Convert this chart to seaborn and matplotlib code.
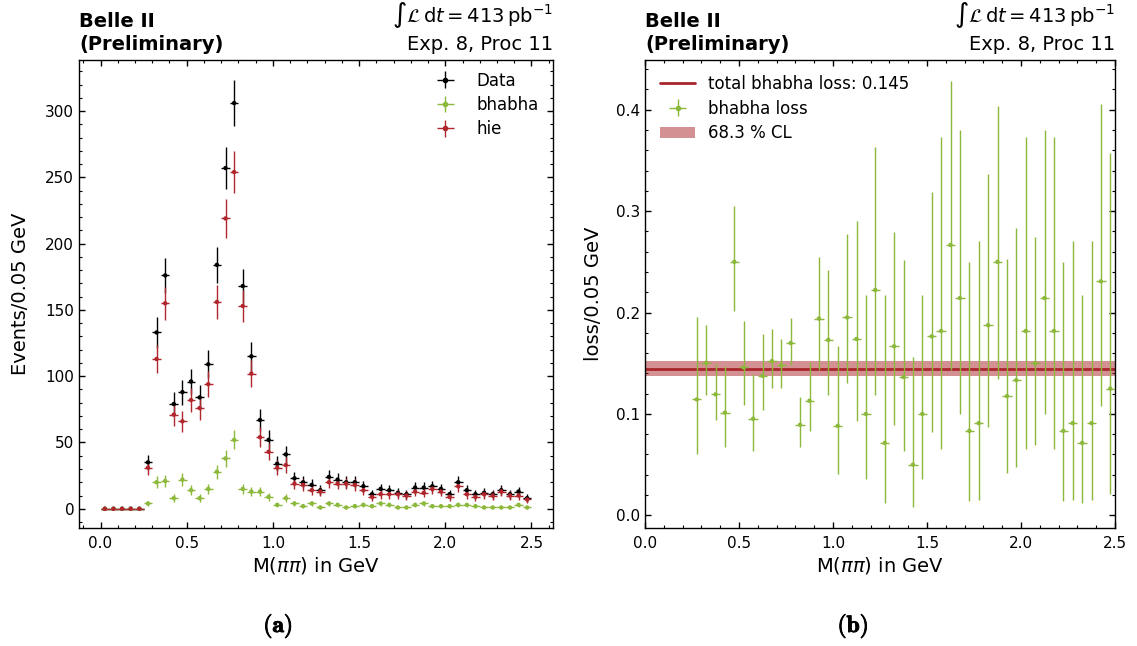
import math
import numpy as np
import pandas as pd
import matplotlib
matplotlib.use("Agg")
import matplotlib.pyplot as plt
import matplotlib.patches as mpatches
import matplotlib.patheffects as pe
from matplotlib.lines import Line2D
from matplotlib.ticker import MultipleLocator
import seaborn as sns

# ---- binned counts, M(pi pi) in 0.05 GeV bins ----
bin_width = 0.05
bin_centers = np.round(np.arange(0.025, 2.5, 0.05), 3)

data_counts = [0, 0, 0, 0, 0, 35, 133, 176, 79, 88,
               96, 84, 109, 184, 257, 306, 168, 115, 67, 52,
               34, 41, 23, 20, 18, 14, 24, 22, 20, 20,
               17, 11, 15, 14, 12, 11, 16, 16, 17, 15,
               11, 20, 14, 11, 12, 11, 14, 11, 13, 8]
bhabha_counts = [0, 0, 0, 0, 0, 4, 20, 21, 8, 22,
                 14, 8, 15, 28, 38, 52, 15, 13, 13, 9,
                 3, 8, 4, 2, 4, 1, 4, 3, 1, 2,
                 3, 2, 4, 3, 1, 1, 3, 4, 2, 2,
                 2, 3, 3, 2, 1, 1, 1, 1, 3, 1]
hie_counts = [0, 0, 0, 0, 0, 31, 113, 155, 71, 66,
              82, 76, 94, 156, 219, 254, 153, 102, 54, 43,
              31, 33, 19, 18, 14, 13, 20, 19, 19, 18,
              14, 9, 11, 11, 11, 10, 13, 12, 15, 13,
              9, 17, 11, 9, 11, 10, 13, 10, 10, 7]

series_labels = ["Data", "bhabha", "hie"]
series_colors = ["black", "#8CB83C", "#B0262C"]
line_color = "#A8252B"
confidence = 0.683


def beta_ppf(q, a, b, npts=400001):
    """Quantile of the Beta(a, b) distribution by numerical integration."""
    x = np.linspace(0.0, 1.0, npts)[1:-1]
    logpdf = (a - 1) * np.log(x) + (b - 1) * np.log1p(-x) \
        - (math.lgamma(a) + math.lgamma(b) - math.lgamma(a + b))
    pdf = np.exp(logpdf)
    cdf = np.concatenate([[0.0], np.cumsum(0.5 * (pdf[1:] + pdf[:-1]) * np.diff(x))])
    cdf /= cdf[-1]
    return float(np.interp(q, cdf, x))


def clopper_pearson(k, n, cl=confidence):
    alpha = (1.0 - cl) / 2.0
    lo = 0.0 if k == 0 else beta_ppf(alpha, k, n - k + 1)
    hi = 1.0 if k == n else beta_ppf(1.0 - alpha, k + 1, n - k)
    return lo, hi


df = pd.DataFrame({"M": bin_centers, "Data": data_counts,
                   "bhabha": bhabha_counts, "hie": hie_counts})

# per-bin bhabha loss with binomial intervals
loss = df[df["Data"] > 0].copy()
loss["frac"] = loss["bhabha"] / loss["Data"]
bounds = [clopper_pearson(k, n) for k, n in zip(loss["bhabha"], loss["Data"])]
loss["lo"] = [b[0] for b in bounds]
loss["hi"] = [b[1] for b in bounds]

k_tot, n_tot = int(np.sum(bhabha_counts)), int(np.sum(data_counts))
total_loss = k_tot / n_tot
total_lo, total_hi = clopper_pearson(k_tot, n_tot)

# ---- styling ----
sns.set_theme(style="ticks")
plt.rcParams["font.family"] = ["DejaVu Sans"]
plt.rcParams["mathtext.fontset"] = "dejavusans"
plt.rcParams["axes.linewidth"] = 1.0
plt.rcParams["axes.edgecolor"] = "black"
for key in ["text.color", "axes.labelcolor", "xtick.color", "ytick.color",
            "xtick.labelcolor", "ytick.labelcolor"]:
    plt.rcParams[key] = "black"

fig = plt.figure(figsize=(11.37, 6.46), dpi=100)
W, H = 1137.0, 646.0
ax1 = fig.add_axes([79 / W, 1 - 528 / H, 474 / W, 468 / H])
ax2 = fig.add_axes([645 / W, 1 - 528 / H, 470 / W, 468 / H])


def style_axes(ax, xminor, ymajor, yminor):
    ax.xaxis.set_major_locator(MultipleLocator(0.5))
    ax.xaxis.set_minor_locator(MultipleLocator(xminor))
    ax.yaxis.set_major_locator(MultipleLocator(ymajor))
    ax.yaxis.set_minor_locator(MultipleLocator(yminor))
    ax.tick_params(which="both", direction="in", top=True, right=True,
                   labelsize=11, color="black", labelcolor="black")
    ax.tick_params(which="major", length=4.5, width=1.0)
    ax.tick_params(which="minor", length=2.5, width=0.8)
    ax.tick_params(axis="x", which="major", pad=6)
    for sp in ax.spines.values():
        sp.set_visible(True)
        sp.set_color("black")


# ---- (a) event counts ----
for name, col in zip(series_labels, series_colors):
    y = df[name].to_numpy(dtype=float)
    ax1.errorbar(df["M"], y, xerr=bin_width / 2, yerr=np.sqrt(y),
                 fmt="none", ecolor=col, elinewidth=1.0, capsize=0)
    sns.scatterplot(x=df["M"], y=y, ax=ax1, color=col, s=10,
                    edgecolor="none", legend=False, zorder=3)
leg_handles = []
for col in series_colors:
    leg_handles.append(ax1.errorbar([], [], xerr=[], yerr=[], fmt="o",
                                    color=col, markersize=3, elinewidth=1.0))
ax1.legend(leg_handles, series_labels, loc="upper right",
           bbox_to_anchor=(1.0, 1.0065), frameon=False,
           fontsize=12, handlelength=2.1, borderaxespad=0.48,
           labelspacing=0.38)
style_axes(ax1, 0.1, 50, 10)
ax1.set_xlim(-0.125, 2.625)
ax1.set_ylim(-14.5, 338.5)
ax1.set_xlabel(r"M($\pi\pi$) in GeV", fontsize=14, labelpad=3)
ax1.set_ylabel("Events/0.05 GeV", fontsize=14, labelpad=11)

# ---- (b) bhabha loss ----
green = series_colors[1]
ax2.fill_between([0.0, 2.5], total_lo, total_hi, color=line_color,
                 alpha=0.5, linewidth=0, zorder=1)
sns.lineplot(x=[0.0, 2.5], y=[total_loss, total_loss], ax=ax2,
             color=line_color, linewidth=2.0, zorder=2)
ax2.errorbar(loss["M"], loss["frac"], xerr=bin_width / 2,
             yerr=[loss["frac"] - loss["lo"], loss["hi"] - loss["frac"]],
             fmt="none", ecolor=green, elinewidth=1.0, capsize=0, zorder=3)
sns.scatterplot(x=loss["M"], y=loss["frac"], ax=ax2, color=green, s=10,
                edgecolor="none", legend=False, zorder=4)

h_line = Line2D([], [], color=line_color, linewidth=2.0)
h_pts = ax2.errorbar([], [], xerr=[], yerr=[], fmt="o", color=green,
                     markersize=3, elinewidth=1.0)
h_band = mpatches.Patch(color=line_color, alpha=0.5, linewidth=0)
ax2.legend([h_line, h_pts, h_band],
           [f"total bhabha loss: {total_loss:.3f}", "bhabha loss",
            f"{confidence * 100:.1f} % CL"],
           loc="upper left", frameon=False, fontsize=12, handlelength=2.1,
           borderaxespad=0.5, labelspacing=0.4)
style_axes(ax2, 0.1, 0.1, 0.02)
ax2.set_xlim(0.0, 2.5)
ax2.set_ylim(-0.0125, 0.449)
ax2.set_xlabel(r"M($\pi\pi$) in GeV", fontsize=14, labelpad=3)
ax2.set_ylabel("loss/0.05 GeV", fontsize=14, labelpad=9.5)

# ---- experiment headers ----
for x0, x1 in [(79 / W, 553 / W), (645 / W, 1115 / W)]:
    fig.text(x0, 1 - 27 / H, "Belle II", fontsize=14, fontweight="bold",
             ha="left", va="baseline")
    fig.text(x0, 1 - 50 / H, "(Preliminary)", fontsize=14,
             fontweight="bold", ha="left", va="baseline")
    fig.text(x1, 1 - 22 / H,
             r"$\int\mathcal{L}\,\mathrm{d}t=413\,\mathrm{pb}^{-1}$",
             fontsize=14, ha="right", va="baseline")
    fig.text(x1, 1 - 50 / H, "Exp. 8, Proc 11", fontsize=14,
             ha="right", va="baseline")

# ---- sub-figure captions ----
bold_fx = [pe.withStroke(linewidth=0.7, foreground="black")]
fig.text(278 / W, 1 - 626 / H, r"$\mathbf{(a)}$", fontsize=17,
         math_fontfamily="cm", ha="center", va="center", path_effects=bold_fx)
fig.text(853 / W, 1 - 626 / H, r"$\mathbf{(b)}$", fontsize=17,
         math_fontfamily="cm", ha="center", va="center", path_effects=bold_fx)

fig.savefig("out.png", dpi=100)
